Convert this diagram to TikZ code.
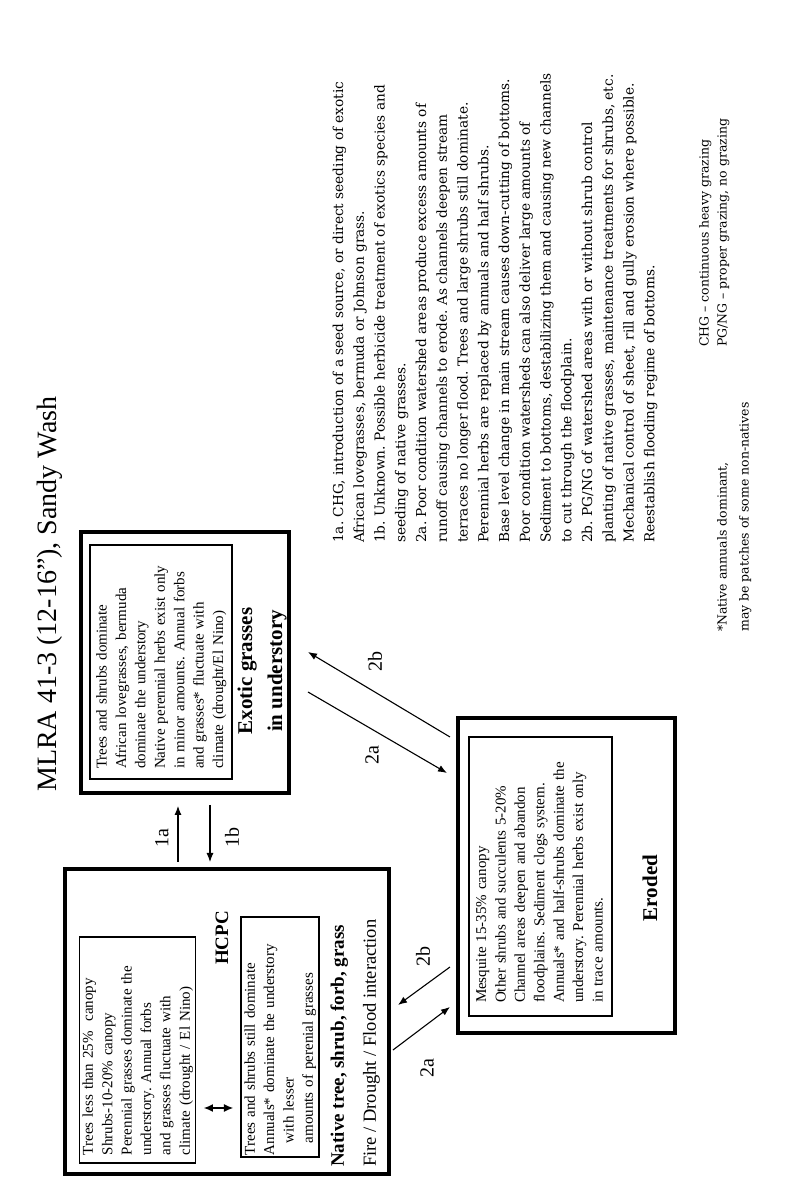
\documentclass[tikz,border=0pt]{standalone}
\usepackage{fontspec}
\setmainfont{Liberation Serif}
\newfontfamily\notefont{DejaVu Serif}
\usetikzlibrary{arrows.meta,calc}
\newcommand{\lines}[1]{\begin{tabular}{@{}l@{}}#1\end{tabular}}
\tikzset{
  outerbox/.style={draw, line width=3.5pt, inner sep=0pt},
  innerbox/.style={draw, line width=1.1pt, align=left, inner ysep=0pt,
    font=\fontsize{15}{19.4}\selectfont},
  arr/.style={line width=1.1pt, -{Latex[length=9pt,width=7pt]}},
  dblarr/.style={line width=1.1pt, {Latex[length=9pt,width=8pt]}-{Latex[length=9pt,width=8pt]}},
  arrlbl/.style={font=\fontsize{20}{24}\selectfont, inner sep=0pt},
  statelbl/.style={font=\bfseries\fontsize{21}{30}\selectfont, align=center, inner sep=0pt},
  notetext/.style={font=\notefont\fontsize{13.7}{20.75}\selectfont, align=left, inner sep=0pt},
  foottext/.style={font=\notefont\fontsize{12.5}{18}\selectfont, align=left, inner sep=0pt}
}
\begin{document}
\frenchspacing
\begin{tikzpicture}[x=1pt,y=1pt]
\begin{scope}[rotate=90, transform shape]
\useasboundingbox (0,0) rectangle (1194,800);
% title
\node[anchor=base west, inner sep=0pt, font=\fontsize{28}{32}\selectfont] (title) at (402,743)
  {MLRA 41-3 (12-16”), Sandy Wash};

% HCPC state
\node[outerbox, minimum width=305pt, minimum height=324pt] (hcpc) at (172.5,573) {};
\node[innerbox, text width=210pt, inner xsep=8pt, minimum height=113pt] (hcpcA) at (144,662.5)
  {\lines{Trees less than 25\%\ \ canopy\\Shrubs-10-20\% canopy\\Perennial grasses dominate the\\understory. Annual forbs\\and grasses fluctuate with\\climate (drought / El Nino)}};
\node[innerbox, text width=236pt, inner xsep=2pt, minimum height=78pt] (hcpcB) at (157,520)
  {\lines{Trees and shrubs still dominate\\Annuals* dominate the understory\\\hspace*{12pt}with lesser\\\hspace*{12pt}amounts of perenial grasses}};
\node[font=\bfseries\fontsize{19}{22}\selectfont, inner sep=0pt] (hcpcl) at (256,578) {HCPC};
\node[anchor=base west, inner sep=0pt, font=\bfseries\fontsize{19}{22}\selectfont] (hcpcn) at (27,456)
  {Native tree, shrub, forb, grass};
\node[anchor=base west, inner sep=0pt, font=\fontsize{18.5}{22}\selectfont] (hcpcf) at (27,424)
  {Fire / Drought / Flood interaction};
\coordinate (dA) at (86,567);
\coordinate (dB) at (86,596);
\draw[dblarr] (dA) -- (dB);

% Exotic state
\node[outerbox, minimum width=261pt, minimum height=208pt] (exo) at (531.5,615) {};
\node[innerbox, text width=214pt, inner xsep=10pt, minimum height=142pt] (exoA) at (532,639)
  {\lines{Trees and shrubs dominate\\African lovegrasses, bermuda\\dominate the understory\\Native perennial herbs exist only\\in minor amounts. Annual forbs\\and grasses* fluctuate with\\climate (drought/El Nino)}};
\node[statelbl] (exol) at (523,538) {Exotic grasses\\in understory};

% Eroded state
\node[outerbox, minimum width=315pt, minimum height=217pt] (ero) at (318.5,233.5) {};
\node[innerbox, text width=253pt, inner xsep=13pt, minimum height=143pt] (eroA) at (317.5,259.5)
  {\lines{Mesquite 15-35\% canopy\\Other shrubs and succulents 5-20\%\\Channel areas deepen and abandon\\floodplains. Sediment clogs system.\\Annuals* and half-shrubs dominate the\\understory. Perennial herbs exist only\\in trace amounts.}};
\node[statelbl] (erol) at (306,150) {Eroded};

% transitions
\coordinate (t1a) at (332,622);  \coordinate (h1a) at (388,622);
\coordinate (t1b) at (389,590);  \coordinate (h1b) at (332,590);
\draw[arr] (t1a) -- (h1a);
\draw[arr] (t1b) -- (h1b);
\node[arrlbl] (l1a) at (356,638) {1a};
\node[arrlbl] (l1b) at (356,568) {1b};

\coordinate (t2bu) at (457,350); \coordinate (h2bu) at (542,492);
\coordinate (t2au) at (502,492); \coordinate (h2au) at (421,353);
\draw[arr] (t2bu) -- (h2bu);
\draw[arr] (t2au) -- (h2au);
\node[arrlbl] (l2bu) at (532,425) {2b};
\node[arrlbl] (l2au) at (439,428) {2a};

\coordinate (t2bl) at (227,350); \coordinate (h2bl) at (189,402);
\coordinate (t2al) at (144,407); \coordinate (h2al) at (187,350);
\draw[arr] (t2bl) -- (h2bl);
\draw[arr] (t2al) -- (h2al);
\node[arrlbl] (l2bl) at (237,377) {2b};
\node[arrlbl] (l2al) at (126,373) {2a};

% notes
\node[notetext, anchor=north west] (notes) at (651,467.5)
  {1a. CHG, introduction of a seed source, or direct seeding of exotic\\
   African lovegrasses, bermuda or Johnson grass.\\
   1b. Unknown. Possible herbicide treatment of exotics species and\\
   seeding of native grasses.\\
   2a. Poor condition watershed areas produce excess amounts of\\
   runoff causing channels to erode. As channels deepen stream\\
   terraces no longer flood. Trees and large shrubs still dominate.\\
   Perennial herbs are replaced by annuals and half shrubs.\\
   Base level change in main stream causes down-cutting of bottoms.\\
   Poor condition watersheds can also deliver large amounts of\\
   Sediment to bottoms, destabilizing them and causing new channels\\
   to cut through the floodplain.\\
   2b. PG/NG of watershed areas with or without shrub control\\
   planting of native grasses, maintenance treatments for shrubs, etc.\\
   Mechanical control of sheet, rill and gully erosion where possible.\\
   Reestablish flooding regime of bottoms.};

\node[foottext, anchor=north west] (abbr) at (847,101)
  {CHG – continuous heavy grazing\\PG/NG – proper grazing, no grazing};
\node[foottext, anchor=north west, font=\notefont\fontsize{12.5}{22}\selectfont] (star) at (562,83)
  {*Native annuals dominant,\\may be patches of some non-natives};
\end{scope}
\end{tikzpicture}
\end{document}
